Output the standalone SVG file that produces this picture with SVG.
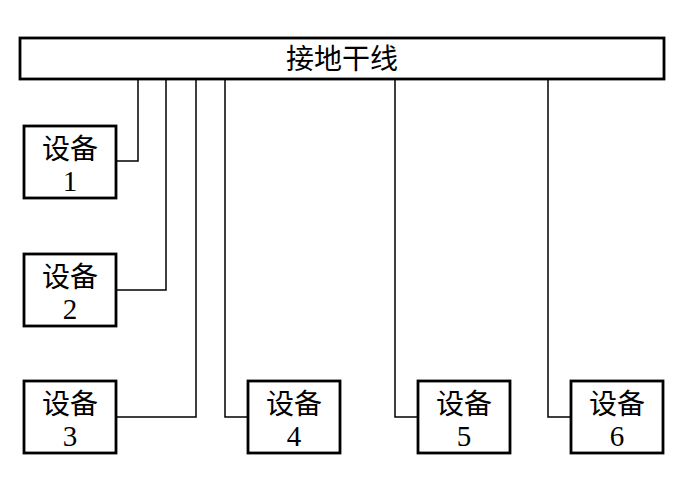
<svg xmlns="http://www.w3.org/2000/svg" width="678" height="482" viewBox="0 0 678 482">
<style>
.box{fill:#fff;stroke:#000;stroke-width:2.8}
.cn{font-family:"Liberation Serif","Noto Sans CJK SC",serif;font-size:28px;text-anchor:middle;fill:#000}
.num{font-family:"Liberation Serif",serif;font-size:29px;text-anchor:middle;fill:#000}
.wire{fill:none;stroke:#000;stroke-width:1.5}
</style>
<rect width="678" height="482" fill="#fff"/>
<g id="bus">
<rect class="box" x="20" y="38" width="644" height="41"/>
<text class="cn" x="342" y="69">接地干线</text>
</g>
<g id="connectors">
<polyline class="wire" points="138,79 138,161 116,161"/>
<polyline class="wire" points="166,79 166,290 116,290"/>
<polyline class="wire" points="196,79 196,417 116,417"/>
<polyline class="wire" points="225,79 225,417 248,417"/>
<polyline class="wire" points="395,79 395,417 418,417"/>
<polyline class="wire" points="548,79 548,417 571,417"/>
</g>
<g id="dev1">
<rect class="box" x="24" y="126" width="92" height="72"/>
<text class="cn" x="70" y="159">设备</text>
<text class="num" x="70" y="191">1</text>
</g>
<g id="dev2">
<rect class="box" x="24" y="254" width="92" height="72"/>
<text class="cn" x="70" y="287">设备</text>
<text class="num" x="70" y="319">2</text>
</g>
<g id="dev3">
<rect class="box" x="24" y="381" width="92" height="72"/>
<text class="cn" x="70" y="414">设备</text>
<text class="num" x="70" y="446">3</text>
</g>
<g id="dev4">
<rect class="box" x="248" y="381" width="92" height="72"/>
<text class="cn" x="294" y="414">设备</text>
<text class="num" x="294" y="446">4</text>
</g>
<g id="dev5">
<rect class="box" x="418" y="381" width="92" height="72"/>
<text class="cn" x="464" y="414">设备</text>
<text class="num" x="464" y="446">5</text>
</g>
<g id="dev6">
<rect class="box" x="571" y="381" width="92" height="72"/>
<text class="cn" x="617" y="414">设备</text>
<text class="num" x="617" y="446">6</text>
</g>
</svg>
